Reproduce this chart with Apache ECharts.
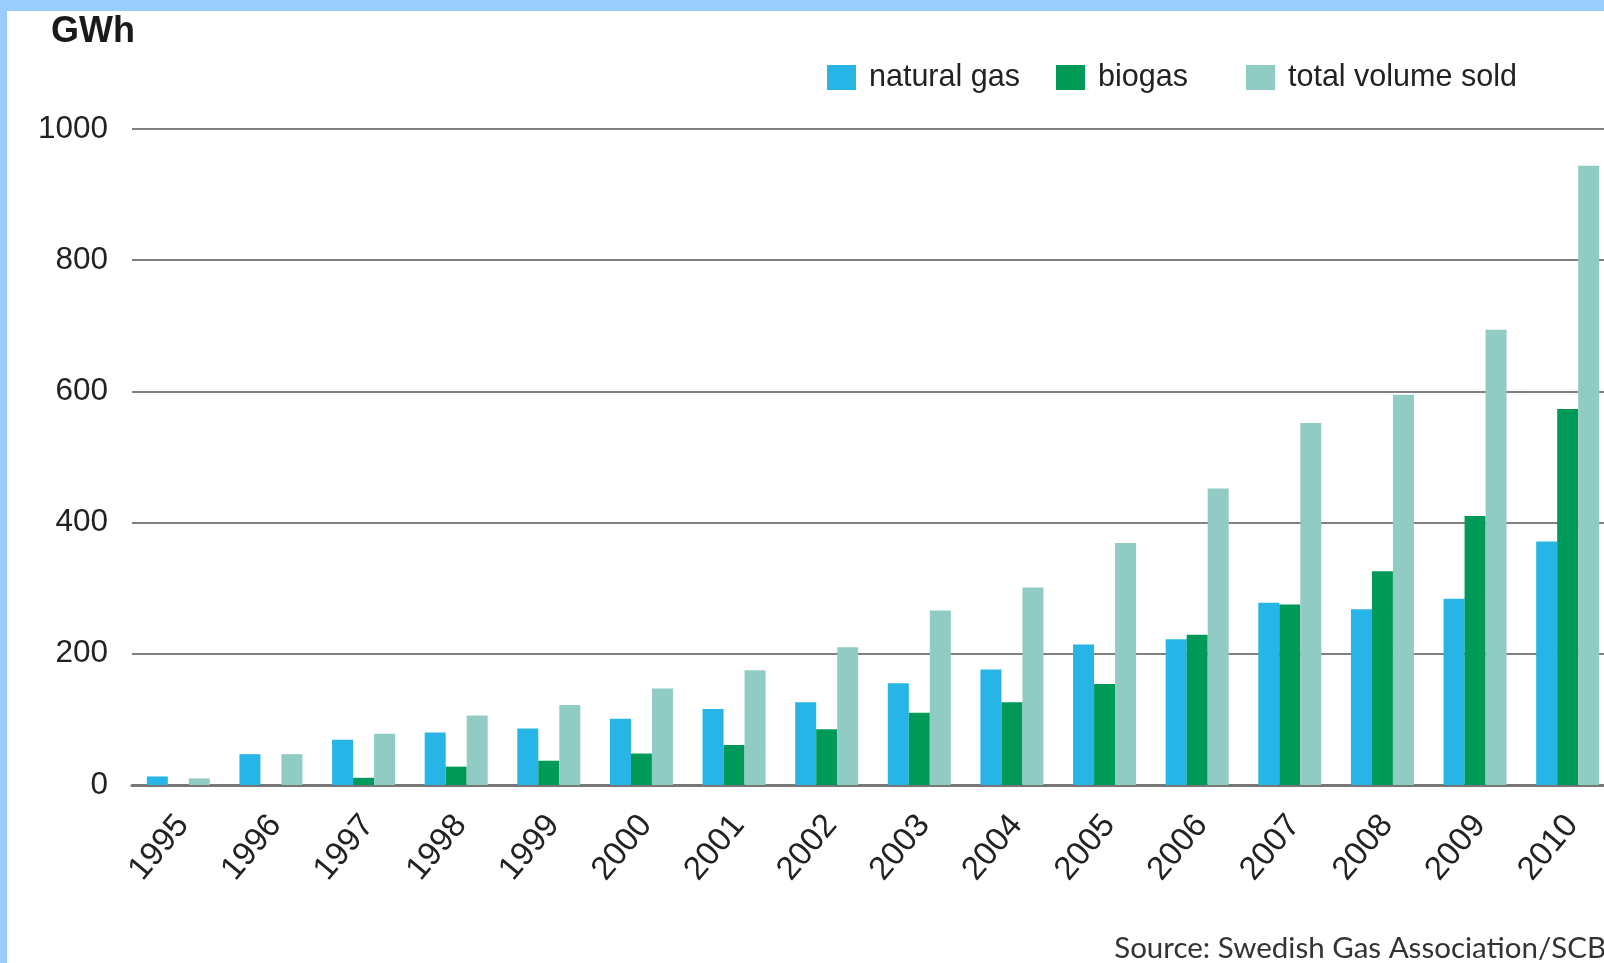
<!DOCTYPE html>
<html>
<head>
<meta charset="utf-8">
<title>Gas volume sold</title>
<script src="https://cdn.jsdelivr.net/npm/echarts@6/dist/echarts.min.js"></script>
<style>
    html, body {
        margin: 0;
        padding: 0;
        width: 1604px;
        height: 963px;
        background: #99ccff;
        overflow: hidden;
    }
    #chart {
        position: absolute;
        left: 7px;
        top: 11px;
        width: 1597px;
        height: 952px;
        background: #fff;
    }
</style>
</head>
<body>
<div id="chart"></div>
<script>
// data (GWh)
var years = ["1995", "1996", "1997", "1998", "1999", "2000", "2001", "2002",
    "2003", "2004", "2005", "2006", "2007", "2008", "2009", "2010"];
var naturalGas = [13, 47, 69, 80, 86, 101, 116, 126, 155, 176, 214, 222, 278, 268, 284, 371];
var biogas = [0, 0, 11, 28, 37, 48, 61, 85, 110, 126, 154, 229, 275, 326, 410, 573];
var totalSold = [10, 47, 78, 106, 122, 147, 175, 210, 266, 301, 369, 452, 552, 595, 694, 944];
var seriesNames = ["natural gas", "biogas", "total volume sold"];
var yTicks = [0, 200, 400, 600, 800, 1000];

var colors = ["#27b4e6", "#009a58", "#90ccc3"];
var font = "'Liberation Sans', Arial, Helvetica, sans-serif";

var chartInstance = echarts.init(document.getElementById("chart"));

function legendAt(name, left) {
    return {
        data: [name],
        left: left,
        top: 51,
        padding: 0,
        itemWidth: 29,
        itemHeight: 25,
        icon: "rect",
        selectedMode: false,
        textStyle: {
            fontFamily: font,
            fontSize: 30.5,
            color: "#222",
            padding: [0, 0, 0, 8]
        }
    };
}

var option = {
    animation: false,
    color: colors,
    title: {
        text: "GWh",
        left: 44,
        top: 3,
        padding: 0,
        textStyle: {
            fontFamily: font,
            fontSize: 36,
            fontWeight: "bold",
            color: "#1a1a1a"
        }
    },
    legend: [
        legendAt(seriesNames[0], 820),
        legendAt(seriesNames[1], 1049),
        legendAt(seriesNames[2], 1239)
    ],
    grid: {
        left: 125,
        top: 118,
        width: 1482,
        bottom: 178,
        outerBoundsMode: "none",
        containLabel: false
    },
    xAxis: {
        type: "category",
        data: years,
        axisTick: {show: false},
        axisLine: {
            lineStyle: {color: "#777", width: 3}
        },
        axisLabel: {
            rotate: 50,
            margin: 40,
            padding: [0, -7, 0, 0],
            fontFamily: font,
            fontSize: 33,
            color: "#222",
            interval: 0
        }
    },
    yAxis: {
        type: "value",
        min: yTicks[0],
        max: yTicks[yTicks.length - 1],
        interval: yTicks[1] - yTicks[0],
        axisLine: {show: false},
        axisTick: {show: false},
        axisLabel: {
            margin: 24,
            fontFamily: font,
            fontSize: 31.5,
            color: "#222",
            formatter: function (v) { return String(v); }
        },
        splitLine: {
            lineStyle: {color: "#808080", width: 2}
        }
    },
    series: [
        {name: seriesNames[0], type: "bar", data: naturalGas, barWidth: 21, barGap: "0%"},
        {name: seriesNames[1], type: "bar", data: biogas, barWidth: 21, barGap: "0%"},
        {name: seriesNames[2], type: "bar", data: totalSold, barWidth: 21, barGap: "0%"}
    ],
    graphic: [{
        type: "text",
        right: -2,
        top: 922,
        style: {
            text: "Source: Swedish Gas Association/SCB",
            font: "29.5px Lato, 'Open Sans', sans-serif",
            fill: "#333"
        }
    }]
};

chartInstance.setOption(option);
</script>
</body>
</html>
